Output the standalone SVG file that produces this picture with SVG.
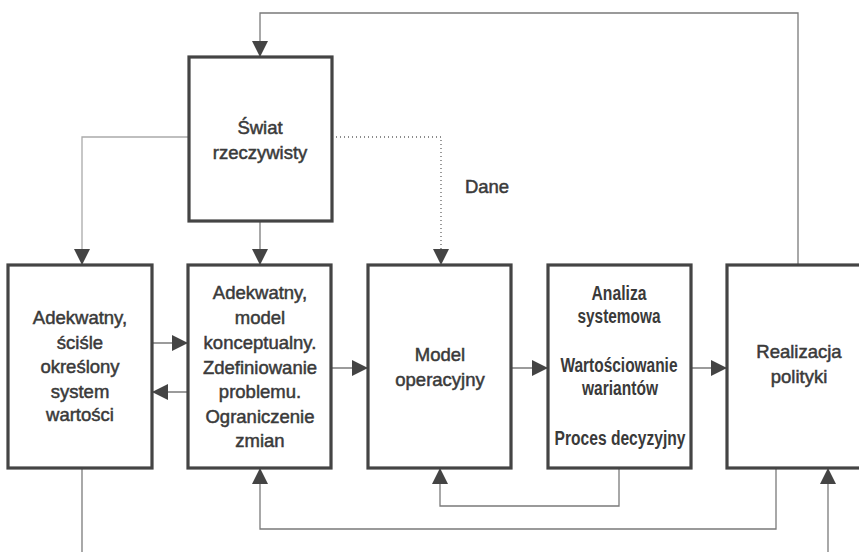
<svg xmlns="http://www.w3.org/2000/svg" width="859" height="552" viewBox="0 0 859 552">
<style>
.box{fill:#fff;stroke:#444;stroke-width:3.2}
.t{font-family:"Liberation Sans",Arial,sans-serif;font-size:18.5px;fill:#3a3a3a;text-anchor:middle;stroke:#3a3a3a;stroke-width:0.5}
.b{font-family:"Liberation Sans",Arial,sans-serif;font-size:20px;font-weight:bold;fill:#3a3a3a;text-anchor:middle}
.c{fill:none;stroke:#7a7a7a;stroke-width:1.3}
.l{fill:none;stroke:#aaa;stroke-width:1.3}
.d{fill:none;stroke:#666;stroke-width:1.3;stroke-dasharray:1 3}
</style>
<defs>
<marker id="a" markerUnits="userSpaceOnUse" markerWidth="16" markerHeight="18" refX="16" refY="8" orient="auto" viewBox="0 0 16 16">
<path d="M0,0 L16,8 L0,16 z" fill="#444"/>
</marker>
</defs>
<rect width="859" height="552" fill="#fff"/>
<g id="connectors">
<path class="c" d="M798,265 V13 H260 V57" marker-end="url(#a)"/>
<path class="l" d="M189,137 H82 V265" marker-end="url(#a)"/>
<path class="c" d="M260,221 V265" marker-end="url(#a)"/>
<path class="d" d="M332,137 H441 V265" marker-end="url(#a)"/>
<path class="c" d="M152,343 H188" marker-end="url(#a)"/>
<path class="c" d="M188,392 H152" marker-end="url(#a)"/>
<path class="c" d="M331,368 H368" marker-end="url(#a)"/>
<path class="c" d="M511,368 H548" marker-end="url(#a)"/>
<path class="c" d="M691,368 H727" marker-end="url(#a)"/>
<path class="c" d="M619,468 V506 H440 V468" marker-end="url(#a)"/>
<path class="c" d="M776,468 V529 H260 V468" marker-end="url(#a)"/>
<path class="c" d="M82,468 V552"/>
<path class="c" d="M828,552 V468" marker-end="url(#a)"/>
</g>
<g id="swiat">
<rect class="box" x="189" y="57" width="143" height="164"/>
<text class="t" x="260" y="134">Świat</text>
<text class="t" x="260" y="159">rzeczywisty</text>
</g>
<g id="dane">
<text class="t" x="487" y="193">Dane</text>
</g>
<g id="system-wartosci">
<rect class="box" x="8" y="265" width="144" height="203"/>
<text class="t" x="80" y="324">Adekwatny,</text>
<text class="t" x="80" y="349">ściśle</text>
<text class="t" x="80" y="373">określony</text>
<text class="t" x="80" y="398">system</text>
<text class="t" x="80" y="421">wartości</text>
</g>
<g id="model-konceptualny">
<rect class="box" x="188" y="265" width="143" height="203"/>
<text class="t" x="260" y="299">Adekwatny,</text>
<text class="t" x="260" y="324">model</text>
<text class="t" x="260" y="349">konceptualny.</text>
<text class="t" x="260" y="374">Zdefiniowanie</text>
<text class="t" x="260" y="398">problemu.</text>
<text class="t" x="260" y="423">Ograniczenie</text>
<text class="t" x="260" y="447">zmian</text>
</g>
<g id="model-operacyjny">
<rect class="box" x="368" y="265" width="143" height="203"/>
<text class="t" x="440" y="361">Model</text>
<text class="t" x="440" y="386">operacyjny</text>
</g>
<g id="analiza">
<rect class="box" x="548" y="265" width="143" height="203"/>
<text class="b" x="619" y="300" textLength="55" lengthAdjust="spacingAndGlyphs">Analiza</text>
<text class="b" x="619" y="323" textLength="83" lengthAdjust="spacingAndGlyphs">systemowa</text>
<text class="b" x="619" y="372" textLength="117" lengthAdjust="spacingAndGlyphs">Wartościowanie</text>
<text class="b" x="620" y="395" textLength="76" lengthAdjust="spacingAndGlyphs">wariantów</text>
<text class="b" x="620" y="445" textLength="131" lengthAdjust="spacingAndGlyphs">Proces decyzyjny</text>
</g>
<g id="realizacja">
<rect class="box" x="727" y="265" width="150" height="203"/>
<text class="t" x="799" y="358">Realizacja</text>
<text class="t" x="799" y="383">polityki</text>
</g>
</svg>
